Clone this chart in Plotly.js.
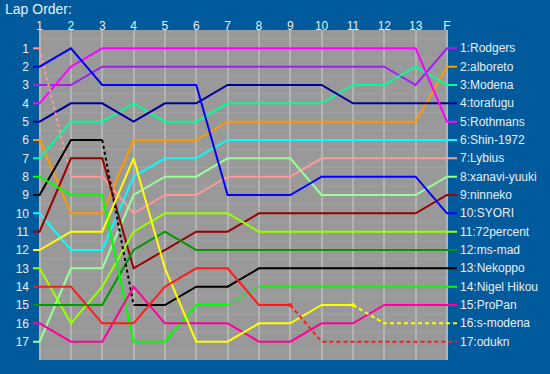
<!DOCTYPE html>
<html>
<head>
<meta charset="utf-8">
<script src="https://cdn.plot.ly/plotly-3.0.1.min.js"></script>
<style>html,body{margin:0;padding:0;background:#005a9c;}#chart{width:550px;height:374px;}</style>
</head>
<body>
<div id="chart"></div>
<script>
// ---- data ----
const lapLabels = ['1','2','3','4','5','6','7','8','9','10','11','12','13','F'];
const drivers = ['Rodgers','alboreto','Modena','torafugu','Rothmans','Shin-1972','Lybius','xanavi-yuuki','ninneko','SYORI','72percent','ms-mad','Nekoppo','Nigel Hikou','ProPan','s-modena','odukn'];
const Rodgers     = [3,3,2,2,2,2,2,2,2,2,2,2,3,1];
const alboreto    = [6,10,10,6,6,6,5,5,5,5,5,5,5,2];
const Modena      = [7,5,5,4,5,5,4,4,4,4,3,3,2,3];
const torafugu    = [5,4,4,5,4,4,3,3,3,3,4,4,4,4];
const Rothmans    = [4,2,1,1,1,1,1,1,1,1,1,1,1,5];
const Shin1972    = [10,12,12,8,7,7,6,6,6,6,6,6,6,6];
const Lybius      = [1,8,8,10,9,9,8,8,8,7,7,7,7,7];
const xanaviYuuki = [17,13,13,9,8,8,7,7,7,9,9,9,9,8];
const ninneko     = [11,7,7,13,12,11,11,10,10,10,10,10,10,9];
const SYORI       = [2,1,3,3,3,3,9,9,9,8,8,8,8,10];
const percent72   = [13,16,14,11,10,10,10,11,11,11,11,11,11,11];
const msMad       = [15,15,15,12,11,12,12,12,12,12,12,12,12,12];
const Nekoppo     = [9,6,6,15,15,14,14,13,13,13,13,13,13,13];
const NigelHikou  = [8,9,9,17,17,15,15,14,14,14,14,14,14,14];
const ProPan      = [16,17,17,14,16,16,16,17,17,16,16,15,15,15];
const sModena     = [12,11,11,7,13,17,17,16,16,15,15,16,16,16];
const odukn       = [14,14,16,16,14,13,13,15,15,17,17,17,17,17];
const series = [Rodgers,alboreto,Modena,torafugu,Rothmans,Shin1972,Lybius,xanaviYuuki,ninneko,SYORI,percent72,msMad,Nekoppo,NigelHikou,ProPan,sModena,odukn];
// lap transitions drawn dotted (from lap, to lap) and laps after which a line turns dashed
const dottedLaps = {'Lybius':[[1,2]], 'Nekoppo':[[3,4]], 'Nigel Hikou':[[7,8]]};
const dashedFromLap = {'s-modena':11, 'odukn':9};

// ---- styling ----
const colors = ['#a020f0','#ff9900','#00ff99','#000099','#ff00ff','#00ffff','#ff9999','#99ff99','#990000','#0000ff','#99ff00','#009900','#000000','#00ff00','#ff0099','#ffff00','#ff1a1a'];
const TXT = '#e8eef5';
const FONT = 'Liberation Sans, Arial, sans-serif';
const nLaps = lapLabels.length;
const lapX = lapLabels.map((_, i) => i + 1);
const X_L = 1 - 0.21, X_R = nLaps + 0.32;

const traces = [];
drivers.forEach((name, d) => {
  const pos = series[d];
  const xs = [X_L].concat(lapX, [X_R]);
  const ys = [pos[0]].concat(pos, [pos[pos.length - 1]]);
  const segStyle = [];
  for (let k = 0; k < xs.length - 1; k++) {
    let st = 'solid';
    const a = xs[k], b = xs[k + 1];
    (dottedLaps[name] || []).forEach(p => { if (a === p[0] && b === p[1]) st = 'dot'; });
    if (dashedFromLap[name] !== undefined && a >= dashedFromLap[name]) st = 'dash';
    segStyle.push(st);
  }
  ['solid','dot','dash'].forEach(st => {
    const tx = [], ty = [];
    let open = false;
    for (let k = 0; k < segStyle.length; k++) {
      if (segStyle[k] === st) {
        if (!open) { tx.push(xs[k]); ty.push(ys[k]); open = true; }
        tx.push(xs[k + 1]); ty.push(ys[k + 1]);
      } else if (open) { tx.push(null); ty.push(null); open = false; }
    }
    if (tx.length) {
      traces.push({
        type: 'scatter', mode: 'lines', x: tx, y: ty, hoverinfo: 'skip', showlegend: false,
        line: {color: colors[d], width: 2, dash: st === 'solid' ? 'solid' : (st === 'dot' ? '3px,3px' : '4px,3px')}
      });
    }
  });
  if (dashedFromLap[name] !== undefined) {
    const L = dashedFromLap[name];
    traces.push({type:'scatter', mode:'markers', x:[L], y:[pos[L - 1]], hoverinfo:'skip', showlegend:false,
      marker:{color: colors[d], size: 4}});
  }
});

const shapes = [{type:'rect', xref:'x', yref:'paper', x0:1, x1:nLaps, y0:0, y1:1, fillcolor:'#999999', line:{width:0}, layer:'below'}];
for (let r = 0; r <= drivers.length; r++) {
  shapes.push({type:'line', xref:'x', yref:'y', x0:1, x1:nLaps, y0:r + 0.5, y1:r + 0.5, line:{color:'#a3a3a3', width:1}, layer:'below'});
}

const annotations = drivers.map((name, d) => {
  const fin = series[d][series[d].length - 1];
  return {x: X_R, y: fin, xref:'x', yref:'y', text: fin + ':' + name, showarrow:false, xanchor:'left', yanchor:'middle', xshift:1,
    font:{family: FONT, size: 12, color: TXT}};
});

const layout = {
  width: 550, height: 374,
  paper_bgcolor: '#005a9c', plot_bgcolor: '#005a9c',
  margin: {l: 33, r: 93, t: 30, b: 14, pad: 0},
  title: {text: 'Lap Order:', x: 5/550, xref:'container', xanchor:'left', y: 1 - 9/374, yref:'container', yanchor:'middle',
    font: {family: FONT, size: 14, color: TXT}},
  xaxis: {range: [X_L, X_R], side: 'top', tickvals: lapX, ticktext: lapLabels, showgrid: true, gridcolor: '#b3b3b3', gridwidth: 2,
    zeroline: false, showline: false, ticks: '', ticklabelstandoff: -3, tickfont: {family: FONT, size: 12, color: TXT}, fixedrange: true},
  yaxis: {range: [18, 0], tickvals: drivers.map((_, i) => i + 1), ticktext: drivers.map((_, i) => String(i + 1)), showgrid: false,
    zeroline: false, showline: false, ticks: '', ticklabelstandoff: 3, tickfont: {family: FONT, size: 12, color: TXT}, fixedrange: true},
  shapes: shapes, annotations: annotations, showlegend: false
};
Plotly.newPlot('chart', traces, layout, {staticPlot: true, displayModeBar: false});
</script>
</body>
</html>
